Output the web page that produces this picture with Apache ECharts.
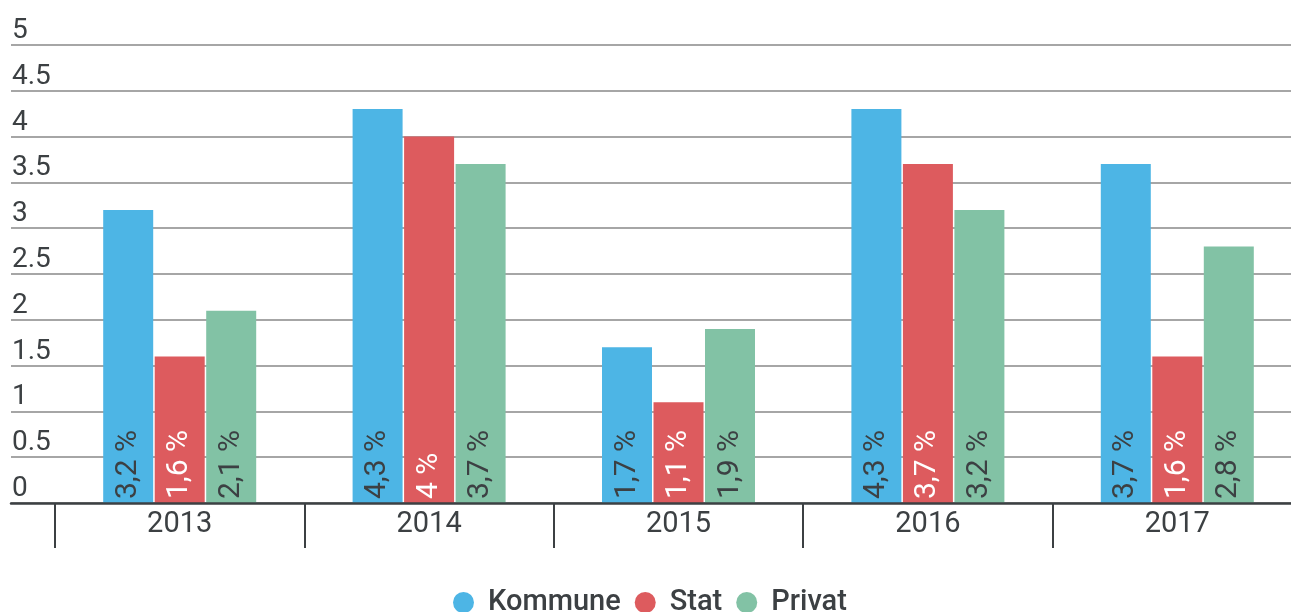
<!DOCTYPE html>
<html>
<head>
<meta charset="utf-8">
<script src="https://cdn.jsdelivr.net/npm/echarts@6/dist/echarts.min.js"></script>
<style>html,body{margin:0;padding:0;background:#fff}#c{width:1291px;height:612px}</style>
</head>
<body>
<div id="c"></div>
<script>
const categories = ['2013', '2014', '2015', '2016', '2017'];
const kommune = [3.2, 4.3, 1.7, 4.3, 3.7];
const stat = [1.6, 4.0, 1.1, 3.7, 1.6];
const privat = [2.1, 3.7, 1.9, 3.2, 2.8];
const seriesNames = ['Kommune', 'Stat', 'Privat'];
const colors = ['#4db5e5', '#dd5b5e', '#82c2a5'];
const labelColors = ['#3c4043', '#ffffff', '#3c4043'];

const textColor = '#3c4043';
const font = 'Roboto';

function mkSeries(name, data, i) {
  return {
    name: name,
    type: 'bar',
    xAxisIndex: 1,
    yAxisIndex: 1,
    data: data,
    barWidth: 50,
    barGap: '3%',
    itemStyle: { color: colors[i] },
    label: {
      show: true,
      position: 'insideBottom',
      rotate: 90,
      align: 'left',
      verticalAlign: 'middle',
      distance: 4,
      fontFamily: font,
      fontSize: 30,
      color: labelColors[i],
      formatter: p => String(p.value).replace('.', ',') + ' %'
    }
  };
}

const chart = echarts.init(document.getElementById('c'));
chart.setOption({
  animation: false,
  color: colors,
  textStyle: { fontFamily: font },
  legend: {
    data: seriesNames,
    top: 588,
    left: 453,
    padding: 0,
    icon: 'circle',
    itemWidth: 21,
    itemHeight: 21,
    itemGap: 14,
    textStyle: { fontFamily: font, fontSize: 29, color: textColor, fontWeight: 500, padding: [0, 0, 0, 9] }
  },
  grid: [
    { left: 11, right: 0, top: 45, bottom: 109, containLabel: false, outerBoundsMode: 'none' },
    { left: 55, width: 1247, top: 45, bottom: 109, containLabel: false, outerBoundsMode: 'none' }
  ],
  xAxis: [
    {
      type: 'value', gridIndex: 0, min: 0, max: 1,
      axisLabel: { show: false }, axisTick: { show: false }, splitLine: { show: false },
      axisLine: { show: true, lineStyle: { color: textColor, width: 2.5 } },
      z: 5
    },
    {
      type: 'category', gridIndex: 1, data: categories,
      axisLine: { show: false },
      axisTick: { show: true, length: 45, lineStyle: { color: textColor, width: 2 } },
      axisLabel: { fontFamily: font, fontSize: 29, color: textColor, margin: 7 }
    }
  ],
  yAxis: [
    {
      type: 'value', gridIndex: 0, min: 0, max: 5, interval: 0.5,
      axisLine: { show: false }, axisTick: { show: false },
      axisLabel: {
        inside: true, margin: 1, align: 'left', verticalAlign: 'bottom',
        padding: [0, 0, 0, 0],
        fontFamily: font, fontSize: 28, color: textColor
      },
      splitLine: { show: true, lineStyle: { color: '#a6a6a6', width: 2 } }
    },
    {
      type: 'value', gridIndex: 1, min: 0, max: 5, interval: 0.5, show: false,
      splitLine: { show: false }
    }
  ],
  series: [
    mkSeries(seriesNames[0], kommune, 0),
    mkSeries(seriesNames[1], stat, 1),
    mkSeries(seriesNames[2], privat, 2)
  ]
});
</script>
</body>
</html>
